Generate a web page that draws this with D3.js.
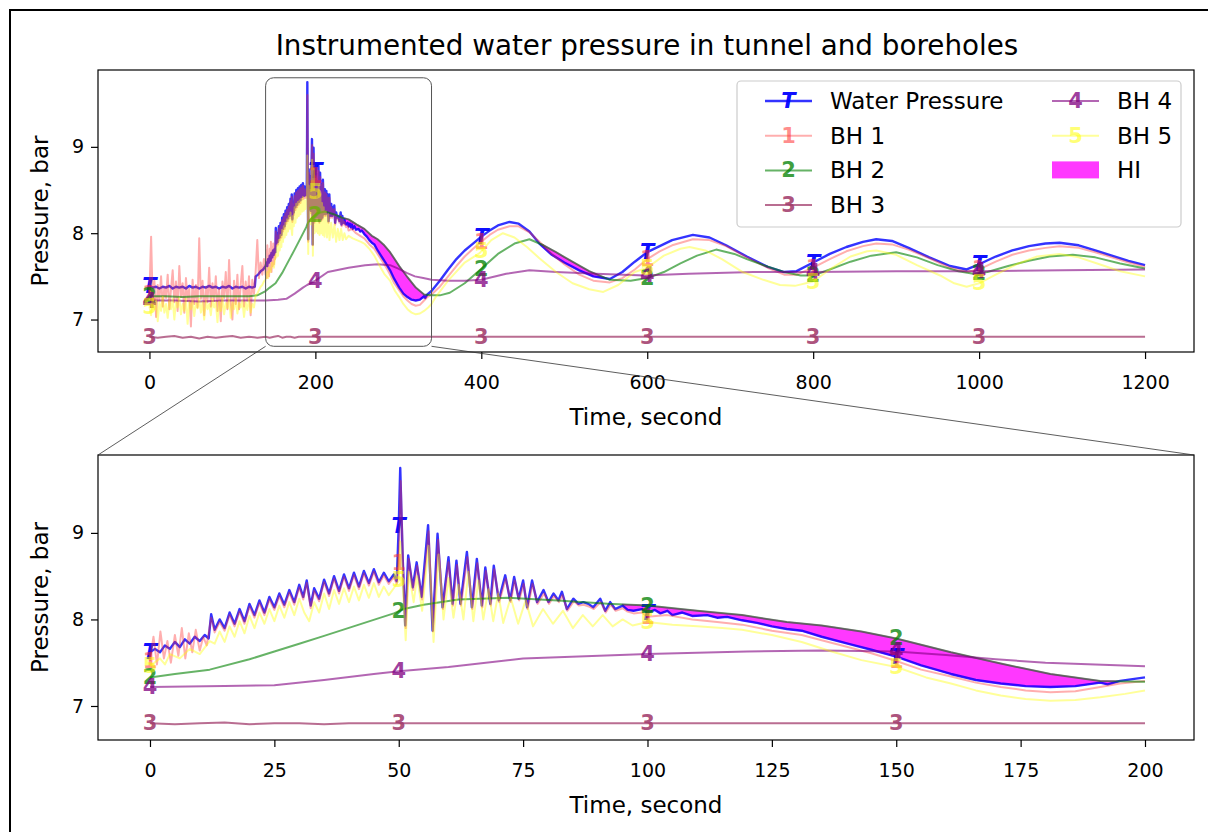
<!DOCTYPE html>
<html>
<head>
<meta charset="utf-8">
<script src="https://cdn.jsdelivr.net/npm/d3@7"></script>
<style>
  body { margin: 0; background: #fff; }
  svg text { font-family: "DejaVu Sans", sans-serif; fill: #000; }
</style>
</head>
<body>
<svg id="chart" width="1208" height="832"></svg>
<script>
'use strict';

// time in seconds, pressure in bar
var waterPressure = [
  [0,7.39],[4,7.37],[8,7.38],[12,7.36],[16,7.38],[20,7.37],[24,7.39],[28,7.36],[32,7.38],[36,7.37],
  [40,7.38],[44,7.36],[48,7.39],[52,7.37],[56,7.38],[60,7.36],[64,7.38],[68,7.37],[72,7.39],[76,7.37],
  [80,7.38],[84,7.36],[88,7.38],[92,7.37],[96,7.39],[100,7.36],[104,7.38],[108,7.37],[112,7.38],[116,7.36],
  [120,7.38],[124,7.37],[127,7.38],[128,7.50],[131,7.52],[134,7.56],[137,7.58],[140,7.62],
  [141,7.66],[142,7.62],[143,7.70],[144,7.66],[145,7.74],[146,7.68],[147,7.77],[148,7.72],[149,7.80],[150,7.75],
  [151,7.82],[151.8,7.78],[152.3,8.06],[153,7.88],[154,8.00],[155,7.90],[156,8.08],[157,7.95],[158,8.12],[159,7.98],
  [160,8.18],[161,8.05],[162,8.22],[163,8.08],[164,8.26],[165,8.14],[166,8.30],[167,8.17],[168,8.34],[169,8.20],
  [170,8.40],[170.8,8.26],[171.5,8.45],[172.3,8.16],[173,8.36],[174,8.24],[175,8.46],[176,8.30],[177,8.50],[178,8.33],
  [179,8.52],[180,8.36],[181,8.54],[182,8.38],[183,8.56],[184,8.42],[185,8.58],[186,8.43],[187,8.54],[188,8.44],
  [189,8.52],[189.6,8.44],[190,9.08],[190.3,9.75],[190.8,8.70],[191.3,7.93],[191.9,8.74],[192.8,8.37],[193.6,8.66],[194.6,8.26],
  [195.9,9.09],[196.8,7.87],[197.8,8.99],[198.8,8.14],[200,8.72],[200.8,8.18],[201.6,8.68],[202.4,8.18],[203.7,8.78],[204.7,8.14],
  [205.7,8.70],[206.7,8.16],[207.4,8.60],[208.4,8.18],[209.1,8.62],[210.1,8.22],[211.4,8.51],[212.4,8.22],[213.2,8.49],[214.1,8.24],
  [215,8.45],[215.8,8.14],[216.8,8.45],[217.8,8.20],[219.1,8.34],[220.1,8.20],[221.1,8.30],[222.1,8.22],[222.8,8.32],[223.8,8.12],
  [225.1,8.24],[226.1,8.18],[227.1,8.20],[228.1,8.18],[229.1,8.14],[230.5,8.24],[231.5,8.10],[232.5,8.20],[233.5,8.12],[235,8.16],
  [236,8.11],[237.2,8.10],[238.9,8.12],[240,8.08],[241.5,8.11],[242.6,8.07],[244,8.10],[245,8.05],[247,8.08],[249,8.04],
  [252,8.05],[254,8.02],[256,8.03],[259,7.99],[262,7.96],[265,7.92],[268,7.89],[271,7.87],[275,7.80],[281,7.71],
  [285,7.65],[290,7.57],[295,7.47],[301,7.37],[306,7.30],[311,7.26],[316,7.23],[321,7.22],[326,7.23],[331,7.27],
  [332.5,7.25],[335,7.29],[340,7.33],
  [350,7.45],[360,7.58],[370,7.70],[380,7.80],[390,7.88],[400,7.96],[410,8.03],[420,8.09],[434,8.13],[445,8.11],
  [458,8.02],[470,7.88],[485,7.75],[500,7.66],[518,7.57],[535,7.50],[555,7.47],[570,7.55],[585,7.67],[600,7.78],
  [615,7.85],[630,7.92],[655,7.98],[675,7.95],[695,7.86],[720,7.73],[745,7.61],[765,7.55],[780,7.56],[800,7.66],
  [820,7.76],[840,7.84],[860,7.90],[876,7.93],[895,7.91],[915,7.83],[940,7.72],[965,7.62],[985,7.58],[1000,7.64],
  [1020,7.73],[1040,7.80],[1060,7.85],[1080,7.88],[1097,7.89],[1120,7.86],[1140,7.80],[1160,7.74],[1180,7.68],[1200,7.63]
];

var bh1 = [
  [0,7.30],[2,7.96],[4,7.18],[6,7.45],[8,7.03],[10,7.40],[12,7.22],[14,7.50],[16,7.15],[18,7.38],
  [20,7.25],[22,7.52],[24,7.12],[26,7.35],[28,7.57],[30,7.20],[32,7.44],[34,7.10],[36,7.62],[38,7.26],
  [40,7.42],[42,7.08],[44,7.48],[46,7.22],[48,7.36],[50,6.92],[52,7.46],[54,7.18],[56,7.40],[58,7.14],
  [60,7.94],[62,7.24],[64,7.45],[66,7.05],[68,7.38],[70,7.20],[72,7.60],[74,7.15],[76,7.42],[78,7.22],
  [80,7.50],[82,7.10],[84,7.36],[86,6.98],[88,7.44],[90,7.25],[92,7.55],[94,7.12],[96,7.69],[98,7.20],
  [100,7.00],[102,7.45],[104,7.18],[106,7.52],[108,7.12],[110,7.40],[112,7.62],[114,7.15],[116,7.44],[118,7.22],
  [120,7.50],[122,7.05],[124,7.46],[126,7.30],[128,7.55],[130,7.92],[132,7.48],[134,7.66],[136,7.52],[138,7.70],
  [140,7.52],[140.7,7.80],[141.4,7.48],[142.1,7.86],[142.8,7.55],[143.5,7.75],[144.2,7.50],[145,7.82],[145.7,7.58],[146.4,7.90],
  [147.1,7.55],[147.8,7.84],[148.5,7.62],[149.2,7.88],[150,7.64],[150.7,7.80],[151.4,7.70],[152.3,8.02],[153,7.85],[154,7.97],
  [155,7.87],[156,8.05],[157,7.92],[158,8.09],[159,7.95],[160,8.15],[161,8.02],[162,8.19],[163,8.05],[164,8.23],
  [165,8.11],[166,8.27],[167,8.14],[168,8.31],[169,8.17],[170,8.37],[170.8,8.23],[171.5,8.42],[172.3,8.13],[173,8.33],
  [174,8.21],[175,8.43],[176,8.27],[177,8.47],[178,8.30],[179,8.49],[180,8.33],[181,8.51],[182,8.35],[183,8.53],
  [184,8.39],[185,8.55],[186,8.40],[187,8.51],[188,8.41],[189,8.49],[189.6,8.41],[190,8.65],[190.4,9.60],[190.9,8.55],
  [191.4,7.90],[192,8.70],[192.9,8.34],[193.7,8.62],[194.7,8.23],[196,9.02],[196.9,7.86],[197.9,8.92],[198.9,8.12],[200,8.66],
  [200.9,8.16],[201.7,8.63],[202.5,8.16],[203.8,8.72],[204.8,8.12],[205.8,8.65],[206.8,8.14],[207.5,8.56],[208.5,8.16],[209.2,8.58],
  [210.2,8.20],[211.5,8.47],[212.5,8.20],[213.3,8.45],[214.2,8.22],[215.1,8.41],[215.9,8.12],[216.9,8.41],[217.9,8.18],[219.2,8.30],
  [220.2,8.18],[221.2,8.27],[222.2,8.20],[222.9,8.28],[223.9,8.10],[225.2,8.21],[226.2,8.16],[227.2,8.17],[228.2,8.15],[229.2,8.12],
  [230.6,8.20],[231.6,8.08],[232.6,8.17],[233.6,8.10],[235,8.13],[236,8.09],[237.2,8.07],[238.9,8.08],[240,8.03],[244,8.05],
  [249,8.00],[254,7.97],[259,7.94],[265,7.87],[271,7.82],[275,7.76],[281,7.67],[285,7.61],[290,7.52],[295,7.42],
  [301,7.34],[306,7.27],[311,7.22],[316,7.18],[321,7.16],[326,7.17],[331,7.22],[335,7.26],[340,7.29],
  [350,7.38],[360,7.50],[370,7.62],[380,7.73],[390,7.82],[400,7.90],[410,7.98],[420,8.04],[434,8.08],[445,8.08],
  [458,8.01],[470,7.90],[485,7.76],[500,7.64],[518,7.52],[535,7.45],[555,7.43],[570,7.48],[585,7.58],[600,7.70],
  [615,7.79],[630,7.86],[655,7.93],[675,7.92],[695,7.85],[720,7.72],[745,7.60],[765,7.52],[780,7.52],[800,7.60],
  [820,7.70],[840,7.79],[860,7.85],[876,7.88],[895,7.87],[915,7.81],[940,7.71],[965,7.60],[985,7.55],[1000,7.58],
  [1020,7.67],[1040,7.75],[1060,7.80],[1080,7.83],[1097,7.85],[1120,7.83],[1140,7.78],[1160,7.72],[1180,7.66],[1200,7.61]
];

var bh2 = [
  [0,7.27],[20,7.27],[40,7.26],[60,7.27],[80,7.27],[100,7.27],[120,7.27],[130,7.28],[140,7.33],[145,7.37],
  [152,7.42],[160,7.54],[165,7.63],[170,7.72],[175,7.81],[182,7.94],[189,8.07],[191,8.12],[195,8.17],[202,8.23],
  [212,8.25],[222,8.22],[232,8.18],[240,8.16],[250,8.10],[259,8.05],[268,7.97],[275,7.93],[283,7.86],[290,7.78],
  [301,7.62],[311,7.49],[321,7.37],[331,7.29],[340,7.28],[350,7.28],[362,7.31],[380,7.42],[398,7.57],[420,7.76],
  [440,7.88],[458,7.93],[475,7.86],[490,7.78],[506,7.69],[530,7.56],[555,7.46],[580,7.45],[600,7.48],[620,7.55],
  [640,7.65],[660,7.74],[683,7.81],[705,7.76],[720,7.70],[740,7.63],[765,7.55],[785,7.51],[800,7.51],[820,7.58],
  [845,7.67],[870,7.74],[900,7.78],[925,7.72],[950,7.63],[975,7.56],[993,7.53],[1010,7.55],[1035,7.62],[1060,7.68],
  [1085,7.73],[1113,7.75],[1140,7.72],[1170,7.65],[1200,7.59]
];

var bh3 = [
  [0,6.80],[10,6.79],[20,6.80],[30,6.81],[40,6.79],[50,6.80],[60,6.78],[70,6.80],[80,6.79],[90,6.80],
  [100,6.81],[110,6.79],[120,6.80],[130,6.79],[140,6.80],[145,6.79],[150,6.80],[155,6.81],[160,6.79],[165,6.80],
  [170,6.80],[175,6.79],[180,6.80],[190,6.80],[200,6.80],[220,6.80],[250,6.80],[300,6.80],[340,6.80],[400,6.80],
  [600,6.80],[800,6.80],[1000,6.80],[1200,6.80]
];

var bh4 = [
  [0,7.22],[30,7.22],[60,7.21],[90,7.22],[120,7.22],[140,7.22],[155,7.23],[165,7.24],[175,7.30],[185,7.37],
  [190,7.40],[200,7.45],[215,7.55],[240,7.60],[260,7.63],[275,7.64],[290,7.63],[300,7.59],[310,7.54],[320,7.50],
  [330,7.48],[340,7.46],[360,7.45],[380,7.45],[400,7.46],[430,7.53],[458,7.57],[490,7.55],[538,7.53],[597,7.51],
  [650,7.53],[728,7.55],[800,7.55],[900,7.56],[1001,7.56],[1100,7.57],[1200,7.58]
];

var bh5 = [
  [0,7.15],[2,7.05],[4,7.25],[6,7.12],[8,7.22],[10,6.98],[12,7.20],[14,7.10],[16,7.26],[18,7.08],
  [20,7.18],[22,7.02],[24,7.22],[26,7.12],[28,7.24],[30,7.00],[32,7.20],[34,7.14],[36,7.25],[38,7.06],
  [40,7.18],[42,7.10],[44,7.24],[46,6.95],[48,7.20],[50,7.12],[52,7.22],[54,7.04],[56,7.19],[58,7.13],
  [60,7.24],[62,7.08],[64,7.20],[66,7.00],[68,7.22],[70,7.12],[72,7.18],[74,7.05],[76,7.24],[78,7.14],
  [80,7.20],[82,6.97],[84,7.21],[86,7.10],[88,7.25],[90,7.06],[92,7.19],[94,7.13],[96,7.23],[98,7.02],
  [100,7.20],[102,7.12],[104,7.24],[106,7.07],[108,7.19],[110,7.14],[112,7.22],[114,7.03],[116,7.20],[118,7.11],
  [120,7.24],[122,7.08],[124,7.18],[126,7.14],[128,7.28],[130,7.30],[132,7.34],[134,7.38],[136,7.40],[138,7.44],
  [140,7.46],[142,7.55],[143,7.48],[144,7.60],[146,7.55],[148,7.66],[150,7.60],[152,7.75],[153,7.72],[154,7.86],
  [155,7.74],[156,7.92],[157,7.80],[158,7.98],[159,7.84],[160,8.04],[161,7.90],[162,8.08],[163,7.95],[164,8.12],
  [165,7.98],[166,8.16],[167,8.02],[168,8.20],[169,8.05],[170,8.24],[171,8.08],[172,7.98],[173,8.20],[174,8.08],
  [175,8.30],[176,8.12],[177,8.34],[178,8.18],[179,8.36],[180,8.20],[181,8.38],[182,8.22],[183,8.40],[184,8.25],
  [185,8.42],[186,8.26],[187,8.38],[188,8.28],[189,8.36],[190,8.45],[190.3,8.90],[191.4,7.76],[192,8.55],[193,8.20],
  [193.7,8.50],[194.7,8.10],[196,8.85],[197,7.74],[198,8.75],[199,8.00],[200,8.48],[201,8.02],[202,8.40],[203,8.00],
  [204,8.55],[205,7.98],[206,8.45],[207,8.00],[208,8.35],[209,7.98],[210,8.30],[211,7.96],[212.5,8.25],[214,7.95],
  [215.5,8.22],[217,7.92],[219,8.12],[221,7.95],[223,8.10],[225,7.90],[227,8.05],[229,7.92],[231,8.05],[233,7.92],
  [235,8.00],[237,7.93],[240,7.97],[245,7.94],[250,7.92],[255,7.90],[259,7.88],[265,7.82],[271,7.74],[277,7.63],
  [283,7.53],[290,7.45],[296,7.33],[301,7.26],[306,7.18],[311,7.12],[316,7.08],[321,7.06],[326,7.07],[331,7.10],
  [336,7.14],[340,7.18],
  [345,7.26],[360,7.45],[380,7.66],[398,7.77],[412,7.92],[426,8.00],[440,7.95],[455,7.84],[470,7.71],[490,7.55],
  [510,7.42],[530,7.35],[547,7.32],[565,7.40],[585,7.55],[600,7.60],[620,7.74],[640,7.82],[651,7.84],[670,7.80],
  [690,7.70],[715,7.55],[740,7.46],[760,7.40],[778,7.39],[800,7.44],[820,7.58],[845,7.73],[865,7.79],[876,7.80],
  [900,7.75],[925,7.63],[953,7.51],[970,7.42],[985,7.38],[1000,7.42],[1020,7.52],[1045,7.64],[1070,7.73],[1097,7.76],
  [1120,7.72],[1145,7.64],[1170,7.56],[1200,7.50]
];

var topTicks = [0, 200, 400, 600, 800, 1000, 1200];
var zoomTicks = [0, 25, 50, 75, 100, 125, 150, 175, 200];
var pressureTicks = [7, 8, 9];
var fullWindow = [0, 1200];
var zoomWindow = [140, 340];       // seconds shown in the lower panel
var zoomBox = [6.69, 9.80];        // bar, height of the inset rectangle
var topMarkerTimes = [0, 200, 400, 600, 800, 1000];
var zoomMarkerTimes = [0, 50, 100, 150];
var hiStart = 235;

var series = [
  {name: 'Water Pressure', data: waterPressure, color: '#0000ff', opacity: 0.8, width: 2.4, mark: 'T', italic: true},
  {name: 'BH 1', data: bh1, color: '#ff2a2a', opacity: 0.38, width: 2, mark: '1'},
  {name: 'BH 2', data: bh2, color: '#008000', opacity: 0.6, width: 2, mark: '2'},
  {name: 'BH 3', data: bh3, color: '#a23c6c', opacity: 0.75, width: 2, mark: '3'},
  {name: 'BH 4', data: bh4, color: '#800080', opacity: 0.6, width: 2, mark: '4'},
  {name: 'BH 5', data: bh5, color: '#ffff00', opacity: 0.4, width: 2, mark: '5'}
];
var hiColor = '#ff00ff';

var svg = d3.select('#chart');

function valueAt(data, t) {
  var i = d3.bisector(function(d) { return d[0]; }).left(data, t);
  if (i <= 0) return data[0][1];
  if (i >= data.length) return data[data.length - 1][1];
  var a = data[i - 1], b = data[i];
  return a[1] + (b[1] - a[1]) * (t - a[0]) / (b[0] - a[0]);
}

// points of the HI band: between water pressure and BH 2 where BH 2 is higher
function hiBand(range) {
  var times = waterPressure.concat(bh2).map(function(d) { return d[0]; })
    .filter(function(t) { return t >= Math.max(hiStart, range[0]) && t <= range[1]; });
  times = Array.from(new Set(times)).sort(d3.ascending);
  var pts = [];
  times.forEach(function(t) {
    var p = {t: t, lo: valueAt(waterPressure, t), hi: valueAt(bh2, t)};
    var q = pts[pts.length - 1];
    if (q) {
      var d0 = q.hi - q.lo, d1 = p.hi - p.lo;
      if (d0 * d1 < 0) {
        var f = d0 / (d0 - d1);
        var v = q.lo + f * (p.lo - q.lo);
        pts.push({t: q.t + f * (p.t - q.t), lo: v, hi: v, cross: true});
      }
    }
    pts.push(p);
  });
  return pts;
}

function drawPanel(cfg) {
  var x = d3.scaleLinear().domain(cfg.xDomain).range([cfg.left, cfg.right]);
  var y = d3.scaleLinear().domain(cfg.yDomain).range([cfg.bottom, cfg.top]);
  var g = svg.append('g');
  var inRange = function(d) { return d[0] >= cfg.range[0] && d[0] <= cfg.range[1]; };

  g.append('clipPath').attr('id', cfg.id + '-clip')
    .append('rect')
    .attr('x', cfg.left).attr('y', cfg.top)
    .attr('width', cfg.right - cfg.left).attr('height', cfg.bottom - cfg.top);

  var plot = g.append('g').attr('clip-path', 'url(#' + cfg.id + '-clip)');

  var area = d3.area()
    .defined(function(d) { return d.cross || d.hi > d.lo; })
    .x(function(d) { return x(d.t); })
    .y0(function(d) { return y(d.lo); })
    .y1(function(d) { return y(d.hi); });
  plot.append('path')
    .datum(hiBand(cfg.range))
    .attr('d', area)
    .attr('fill', hiColor)
    .attr('fill-opacity', 0.78)
    .attr('stroke', hiColor)
    .attr('stroke-opacity', 0.78)
    .attr('stroke-width', 1.5);

  var line = d3.line()
    .x(function(d) { return x(d[0]); })
    .y(function(d) { return y(d[1]); });

  series.forEach(function(s) {
    plot.append('path')
      .datum(s.data.filter(inRange))
      .attr('d', line)
      .attr('fill', 'none')
      .attr('stroke', s.color)
      .attr('stroke-opacity', s.opacity)
      .attr('stroke-width', s.width)
      .attr('stroke-linejoin', 'round');

    plot.selectAll(null)
      .data(cfg.markers)
      .enter().append('text')
      .attr('x', function(t) { return x(t); })
      .attr('y', function(t) { return y(valueAt(s.data, t)); })
      .attr('text-anchor', 'middle')
      .attr('dominant-baseline', 'central')
      .style('font-size', '21px')
      .style('font-weight', 'bold')
      .style('font-style', s.italic ? 'italic' : 'normal')
      .style('fill', s.color)
      .style('fill-opacity', Math.min(1, s.opacity + 0.15))
      .text(s.mark);
  });

  g.append('rect')
    .attr('x', cfg.left).attr('y', cfg.top)
    .attr('width', cfg.right - cfg.left).attr('height', cfg.bottom - cfg.top)
    .attr('fill', 'none').attr('stroke', '#000').attr('stroke-width', 1.2);

  var xAxis = g.append('g')
    .attr('transform', 'translate(0,' + cfg.bottom + ')')
    .call(d3.axisBottom(x).tickValues(cfg.xTicks).tickFormat(cfg.xFormat)
      .tickSize(7).tickPadding(17));
  var yAxis = g.append('g')
    .attr('transform', 'translate(' + cfg.left + ',0)')
    .call(d3.axisLeft(y).tickValues(pressureTicks).tickFormat(d3.format('d'))
      .tickSize(7).tickPadding(7));
  [xAxis, yAxis].forEach(function(a) {
    a.select('.domain').remove();
    a.selectAll('line').attr('stroke', '#000').attr('stroke-width', 1.2);
    a.selectAll('text').style('font-size', '19px').style('font-family', '"DejaVu Sans", sans-serif');
  });

  g.append('text')
    .attr('x', (cfg.left + cfg.right) / 2).attr('y', cfg.bottom + 73)
    .attr('text-anchor', 'middle')
    .style('font-size', '23px')
    .text('Time, second');
  g.append('text')
    .attr('transform', 'translate(40,' + (cfg.top + cfg.bottom) / 2 + ') rotate(-90)')
    .attr('text-anchor', 'middle')
    .attr('dominant-baseline', 'central')
    .style('font-size', '23px')
    .text('Pressure, bar');

  return {x: x, y: y};
}

// outer frame
svg.append('path')
  .attr('d', 'M10,832V10H1208')
  .attr('fill', 'none').attr('stroke', '#000').attr('stroke-width', 2);

svg.append('text')
  .attr('x', 647).attr('y', 45)
  .attr('text-anchor', 'middle').attr('dominant-baseline', 'central')
  .style('font-size', '27.8px')
  .text('Instrumented water pressure in tunnel and boreholes');

var topPanel = drawPanel({
  id: 'top', left: 98, right: 1194, top: 70, bottom: 352,
  xDomain: [-62, 1259], yDomain: [6.624, 9.89], range: fullWindow,
  xTicks: topTicks, xFormat: d3.format('d'),
  markers: topMarkerTimes
});

drawPanel({
  id: 'zoom', left: 98, right: 1194, top: 455, bottom: 740,
  xDomain: [zoomWindow[0] - 10.45, zoomWindow[0] + 209.85], yDomain: [6.607, 9.9], range: zoomWindow,
  xTicks: zoomTicks.map(function(t) { return t + zoomWindow[0]; }),
  xFormat: function(t) { return d3.format('d')(t - zoomWindow[0]); },
  markers: zoomMarkerTimes.map(function(t) { return t + zoomWindow[0]; })
});

// inset indicator
var bx0 = topPanel.x(zoomWindow[0]), bx1 = topPanel.x(zoomWindow[1]);
var by0 = topPanel.y(zoomBox[1]), by1 = topPanel.y(zoomBox[0]);
svg.append('rect')
  .attr('x', bx0).attr('y', by0)
  .attr('width', bx1 - bx0).attr('height', by1 - by0)
  .attr('rx', 8)
  .attr('fill', 'none').attr('stroke', '#555').attr('stroke-width', 1);
svg.append('line')
  .attr('x1', bx0).attr('y1', by1).attr('x2', 98).attr('y2', 455)
  .attr('stroke', '#333').attr('stroke-width', 0.8);
svg.append('line')
  .attr('x1', bx1).attr('y1', by1).attr('x2', 1194).attr('y2', 455)
  .attr('stroke', '#333').attr('stroke-width', 0.8);

// legend
var legend = svg.append('g');
legend.append('rect')
  .attr('x', 737).attr('y', 81).attr('width', 444).attr('height', 146).attr('rx', 4)
  .attr('fill', '#fff').attr('fill-opacity', 0.8)
  .attr('stroke', '#cccccc').attr('stroke-width', 1.2);

var legendItems = series.map(function(s) { return {s: s}; }).concat([{hi: true, name: 'HI'}]);
legendItems.forEach(function(item, i) {
  var col = i < 4 ? 0 : 1;
  var row = i < 4 ? i : i - 4;
  var hx = col === 0 ? 765 : 1052;
  var cy = 101 + row * 34.7;
  var g = legend.append('g');
  if (item.hi) {
    g.append('rect')
      .attr('x', hx).attr('y', cy - 9).attr('width', 47).attr('height', 17)
      .attr('fill', hiColor).attr('fill-opacity', 0.78);
  } else {
    var s = item.s;
    g.append('line')
      .attr('x1', hx).attr('x2', hx + 47).attr('y1', cy).attr('y2', cy)
      .attr('stroke', s.color).attr('stroke-opacity', s.opacity).attr('stroke-width', s.width);
    g.append('text')
      .attr('x', hx + 23.5).attr('y', cy)
      .attr('text-anchor', 'middle').attr('dominant-baseline', 'central')
      .style('font-size', '21px').style('font-weight', 'bold')
      .style('font-style', s.italic ? 'italic' : 'normal')
      .style('fill', s.color).style('fill-opacity', Math.min(1, s.opacity + 0.15))
      .text(s.mark);
  }
  g.append('text')
    .attr('x', hx + 65).attr('y', cy)
    .attr('dominant-baseline', 'central')
    .style('font-size', '23px')
    .text(item.hi ? item.name : item.s.name);
});
</script>
</body>
</html>
